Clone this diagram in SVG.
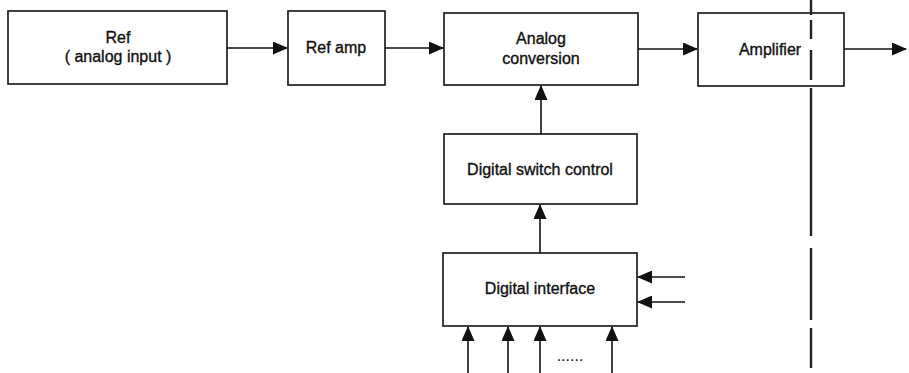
<svg xmlns="http://www.w3.org/2000/svg" width="909" height="373" viewBox="0 0 909 373">
<style>
.box{fill:#fff;stroke:#111;stroke-width:1.6}
.t{font-family:"Liberation Sans",Arial,sans-serif;font-size:16px;fill:#111;stroke:#111;stroke-width:0.35;text-anchor:middle}
.c{stroke:#111;stroke-width:1.6;fill:none}
</style>
<defs>
<marker id="ah" markerWidth="15" markerHeight="13" refX="14" refY="6.5" orient="auto" markerUnits="userSpaceOnUse">
<path d="M0,0 L15,6.5 L0,13 Z" fill="#111"/>
</marker>
</defs>
<rect width="909" height="373" fill="#fff"/>
<g id="ref"><rect class="box" x="8" y="11" width="219" height="73"/><text class="t" x="118" y="43">Ref</text><text class="t" x="118" y="62">( analog input )</text></g>
<g id="refamp"><rect class="box" x="288" y="11" width="97" height="74"/><text class="t" x="336" y="53">Ref amp</text></g>
<g id="analog"><rect class="box" x="444" y="13" width="194" height="72"/><text class="t" x="541" y="44">Analog</text><text class="t" x="541" y="64">conversion</text></g>
<g id="amplifier"><rect class="box" x="698" y="13" width="146" height="73"/><text class="t" x="770" y="55">Amplifier</text></g>
<g id="dsc"><rect class="box" x="444" y="134" width="193" height="70"/><text class="t" x="540" y="175">Digital switch control</text></g>
<g id="di"><rect class="box" x="443" y="253" width="194" height="73"/><text class="t" x="540" y="294">Digital interface</text></g>
<g id="connectors">
<line class="c" x1="227" y1="48" x2="287" y2="48" marker-end="url(#ah)"/>
<line class="c" x1="385" y1="48" x2="443" y2="48" marker-end="url(#ah)"/>
<line class="c" x1="638" y1="49" x2="697" y2="49" marker-end="url(#ah)"/>
<line class="c" x1="844" y1="49" x2="906" y2="49" marker-end="url(#ah)"/>
<line class="c" x1="541" y1="134" x2="541" y2="86" marker-end="url(#ah)"/>
<line class="c" x1="540" y1="253" x2="540" y2="205" marker-end="url(#ah)"/>
<line class="c" x1="685" y1="277" x2="638" y2="277" marker-end="url(#ah)"/>
<line class="c" x1="685" y1="302" x2="638" y2="302" marker-end="url(#ah)"/>
<line class="c" x1="468" y1="373" x2="468" y2="327" marker-end="url(#ah)"/>
<line class="c" x1="508" y1="373" x2="508" y2="327" marker-end="url(#ah)"/>
<line class="c" x1="540" y1="373" x2="540" y2="327" marker-end="url(#ah)"/>
<line class="c" x1="612" y1="373" x2="612" y2="327" marker-end="url(#ah)"/>
</g>
<text x="570" y="361" style="font-family:'Liberation Sans',Arial,sans-serif;font-size:16px;fill:#111;text-anchor:middle">......</text>
<path d="M811,0 V15 M811,20 V39 M811,50 V80 M811,88 V236 M811,248 V320 M811,328 V368" stroke="#222" stroke-width="2.4" fill="none"/>
</svg>
